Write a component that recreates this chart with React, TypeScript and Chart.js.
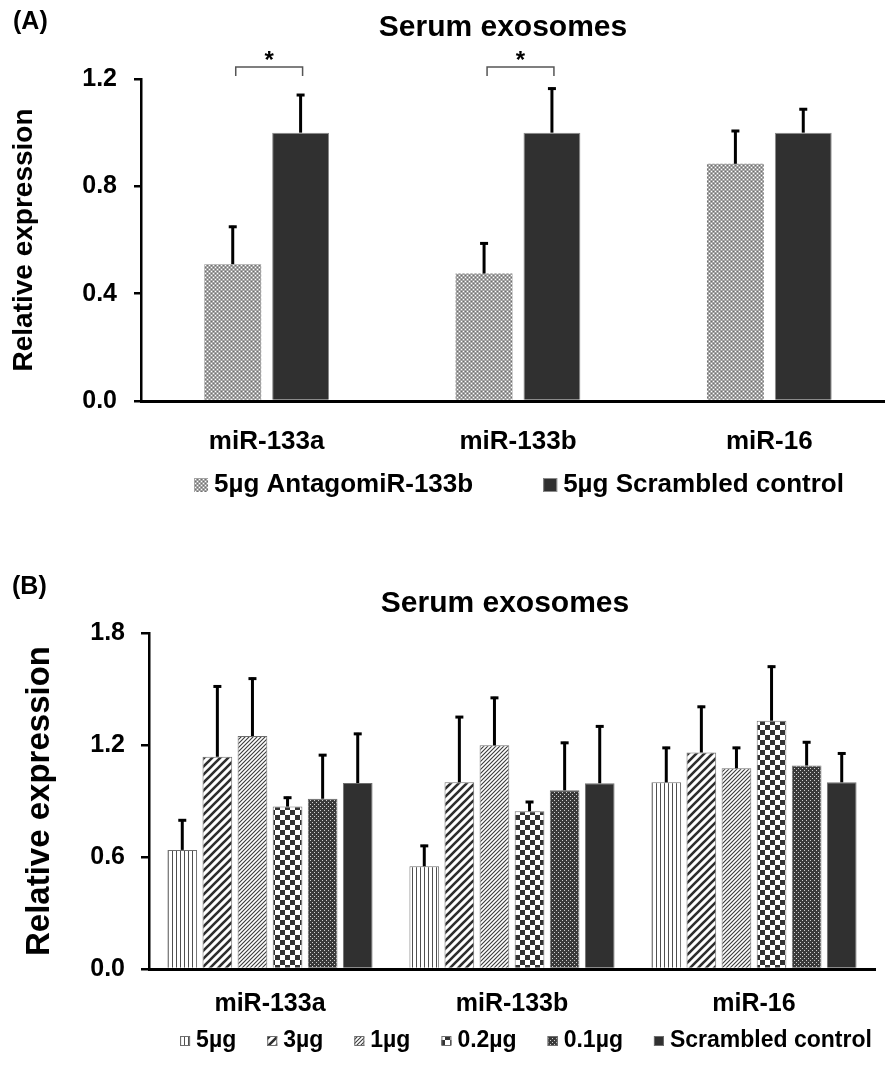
import React, { useEffect, useRef } from "react";
import { Chart, registerables } from "chart.js";

Chart.register(...registerables);

const FONT = "'Liberation Sans', Arial, Helvetica, sans-serif";
Chart.defaults.font.family = FONT;
Chart.defaults.color = "#000";

// ---------- Panel A data ----------
const categoriesA = ["miR-133a", "miR-133b", "miR-16"];
const seriesNamesA = ["5µg AntagomiR-133b", "5µg Scrambled control"];
const antagoMean = [0.51, 0.475, 0.884];
const antagoErr = [0.143, 0.116, 0.126];
const scrambledMeanA = [1.0, 1.0, 1.0];
const scrambledErrA = [0.144, 0.168, 0.091];
const yTicksA = [0, 0.4, 0.8, 1.2];
const significantA = [0, 1];

// ---------- Panel B data ----------
const categoriesB = ["miR-133a", "miR-133b", "miR-16"];
const doseNames = ["5µg", "3µg", "1µg", "0.2µg", "0.1µg", "Scrambled control"];
const dose5Mean = [0.638, 0.55, 1.0];
const dose5Err = [0.164, 0.115, 0.19];
const dose3Mean = [1.137, 1.0, 1.16];
const dose3Err = [0.382, 0.355, 0.25];
const dose1Mean = [1.248, 1.198, 1.075];
const dose1Err = [0.313, 0.26, 0.115];
const dose02Mean = [0.87, 0.845, 1.33];
const dose02Err = [0.053, 0.055, 0.295];
const dose01Mean = [0.912, 0.957, 1.09];
const dose01Err = [0.239, 0.26, 0.13];
const scrambledMeanB = [0.996, 0.995, 1.0];
const scrambledErrB = [0.269, 0.31, 0.16];
const yTicksB = [0, 0.6, 1.2, 1.8];

// ---------- patterns ----------
function makePattern(size: number, draw: (c: CanvasRenderingContext2D) => void): CanvasPattern {
  const cv = document.createElement("canvas");
  cv.width = size;
  cv.height = size;
  const c = cv.getContext("2d")!;
  draw(c);
  return c.createPattern(cv, "repeat")!;
}

const patAntago = () =>
  makePattern(4, (c) => {
    c.fillStyle = "#a4a4a4";
    c.fillRect(0, 0, 4, 4);
    c.fillStyle = "#ffffff";
    c.fillRect(1, 1, 1, 1);
    c.fillRect(3, 3, 1, 1);
    c.fillStyle = "#707070";
    c.fillRect(1, 3, 1, 1);
    c.fillRect(3, 1, 1, 1);
  });

const patVertical = () =>
  makePattern(4, (c) => {
    c.fillStyle = "#ffffff";
    c.fillRect(0, 0, 4, 4);
    c.fillStyle = "#505050";
    c.fillRect(0, 0, 1, 4);
  });

const diag = (size: number, lw: number, color: string) =>
  makePattern(size, (c) => {
    c.fillStyle = "#ffffff";
    c.fillRect(0, 0, size, size);
    c.strokeStyle = color;
    c.lineWidth = lw;
    c.beginPath();
    c.moveTo(-1, size + 1);
    c.lineTo(size + 1, -1);
    c.moveTo(-2, 2);
    c.lineTo(2, -2);
    c.moveTo(size - 2, size + 2);
    c.lineTo(size + 2, size - 2);
    c.stroke();
  });

const patChecker = () =>
  makePattern(10, (c) => {
    c.fillStyle = "#ffffff";
    c.fillRect(0, 0, 10, 10);
    c.fillStyle = "#333333";
    c.fillRect(0, 0, 5, 5);
    c.fillRect(5, 5, 5, 5);
  });

const patDots = () =>
  makePattern(4, (c) => {
    c.fillStyle = "#3a3a3a";
    c.fillRect(0, 0, 4, 4);
    c.fillStyle = "#d0d0d0";
    c.fillRect(0, 0, 1, 1);
    c.fillRect(2, 2, 1, 1);
  });

// ---------- decoration plugin (error bars, title, brackets, legend) ----------
type LegendItem = { text: string; fill: any; stroke?: string; strokeWidth?: number };
type DecorCfg = {
  errors: number[][];
  errWidth: number;
  cap: number;
  panel: string;
  panelX: number;
  panelY: number;
  panelFont: number;
  title: string;
  titleX: number;
  titleY: number;
  titleFont: number;
  brackets?: number[];
  bracketTop?: number;
  bracketLeg?: number;
  legend: LegendItem[];
  legendCx: number;
  legendCy: number;
  legendFont: number;
  legendBox: number;
  legendGap: number;
  legendSpacing: number;
};

function decor(cfg: DecorCfg) {
  return {
    id: "decor",
    afterDatasetsDraw(chart: any) {
      const ctx: CanvasRenderingContext2D = chart.ctx;
      const ys = chart.scales.y;
      cfg.errors.forEach((errs, di) => {
        const meta = chart.getDatasetMeta(di);
        const vals = chart.data.datasets[di].data as number[];
        meta.data.forEach((el: any, j: number) => {
          const x = el.x;
          const yb = el.y;
          const yt = ys.getPixelForValue(vals[j] + errs[j]);
          ctx.save();
          ctx.strokeStyle = "#000";
          ctx.lineWidth = cfg.errWidth;
          ctx.lineCap = "butt";
          ctx.beginPath();
          ctx.moveTo(x, yb);
          ctx.lineTo(x, yt);
          ctx.stroke();
          ctx.beginPath();
          ctx.moveTo(x - cfg.cap / 2, yt + cfg.errWidth / 2 - 0.5);
          ctx.lineTo(x + cfg.cap / 2, yt + cfg.errWidth / 2 - 0.5);
          ctx.stroke();
          ctx.restore();
        });
      });
    },
    afterDraw(chart: any) {
      const ctx: CanvasRenderingContext2D = chart.ctx;
      const ys = chart.scales.y;
      ctx.save();
      // panel label
      ctx.fillStyle = "#000";
      ctx.font = `bold ${cfg.panelFont}px ${FONT}`;
      ctx.textAlign = "left";
      ctx.textBaseline = "middle";
      ctx.fillText(cfg.panel, cfg.panelX, cfg.panelY);
      // title
      ctx.font = `bold ${cfg.titleFont}px ${FONT}`;
      ctx.textAlign = "center";
      ctx.fillText(cfg.title, cfg.titleX, cfg.titleY);
      // significance brackets
      if (cfg.brackets && cfg.bracketTop !== undefined && cfg.bracketLeg !== undefined) {
        const m0 = chart.getDatasetMeta(0);
        const m1 = chart.getDatasetMeta(1);
        const yTop = ys.getPixelForValue(cfg.bracketTop);
        const yLeg = ys.getPixelForValue(cfg.bracketLeg);
        cfg.brackets.forEach((c) => {
          const x1 = m0.data[c].x + 3;
          const x2 = m1.data[c].x + 2;
          ctx.strokeStyle = "#555";
          ctx.lineWidth = 1.5;
          ctx.beginPath();
          ctx.moveTo(x1, yLeg);
          ctx.lineTo(x1, yTop);
          ctx.lineTo(x2, yTop);
          ctx.lineTo(x2, yLeg);
          ctx.stroke();
          ctx.fillStyle = "#000";
          ctx.font = `bold 24px ${FONT}`;
          ctx.textAlign = "center";
          ctx.textBaseline = "alphabetic";
          ctx.fillText("*", (x1 + x2) / 2, yTop + 1);
        });
      }
      // legend
      ctx.font = `bold ${cfg.legendFont}px ${FONT}`;
      const widths = cfg.legend.map((it) => ctx.measureText(it.text).width);
      const b = cfg.legendBox;
      let total = 0;
      widths.forEach((w, i) => {
        total += b + cfg.legendGap + w + (i < widths.length - 1 ? cfg.legendSpacing : 0);
      });
      let x = cfg.legendCx - total / 2;
      const cy = cfg.legendCy;
      cfg.legend.forEach((it, i) => {
        ctx.fillStyle = it.fill;
        ctx.fillRect(x, cy - b / 2, b, b);
        if (it.strokeWidth) {
          ctx.strokeStyle = it.stroke || "#777";
          ctx.lineWidth = it.strokeWidth;
          ctx.strokeRect(x + 0.5, cy - b / 2 + 0.5, b - 1, b - 1);
        }
        ctx.fillStyle = "#000";
        ctx.textAlign = "left";
        ctx.textBaseline = "middle";
        ctx.fillText(it.text, x + b + cfg.legendGap, cy);
        x += b + cfg.legendGap + widths[i] + cfg.legendSpacing;
      });
      ctx.restore();
    },
  };
}

// ---------- configs ----------
function configA(): any {
  const fills = [patAntago(), "#303030"];
  const datasets = [
    { label: seriesNamesA[0], data: antagoMean, backgroundColor: fills[0], borderWidth: 0 },
    { label: seriesNamesA[1], data: scrambledMeanA, backgroundColor: fills[1], borderColor: "#8a8a8a", borderWidth: 1 },
  ].map((d) => ({ ...d, categoryPercentage: 0.54, barPercentage: 0.838 }));
  return {
    type: "bar",
    data: { labels: categoriesA, datasets },
    options: {
      responsive: false,
      animation: false,
      events: [],
      layout: { padding: { left: 0, right: 5, top: 79, bottom: 69 } },
      plugins: { legend: { display: false }, tooltip: { enabled: false }, title: { display: false } },
      scales: {
        x: {
          grid: { display: false, drawTicks: false },
          border: { display: true, color: "#000", width: 3 },
          ticks: { color: "#000", font: { size: 26, weight: "bold" }, padding: 25, autoSkip: false, maxRotation: 0 },
          afterFit: (s: any) => {
            s.height = 60;
          },
        },
        y: {
          min: 0,
          max: 1.2,
          afterBuildTicks: (s: any) => {
            s.ticks = yTicksA.map((v) => ({ value: v }));
          },
          ticks: { color: "#000", font: { size: 25, weight: "bold" }, padding: 17, callback: (v: any) => Number(v).toFixed(1) },
          grid: { drawOnChartArea: false, drawTicks: true, tickLength: 7, color: "#000", lineWidth: 2.5 },
          border: { display: true, color: "#000", width: 2.5 },
          title: { display: true, text: "Relative expression", color: "#000", font: { size: 28, weight: "bold" }, padding: { top: 7, bottom: 0 } },
          afterFit: (s: any) => {
            s.width = 141;
          },
        },
      },
    },
    plugins: [
      decor({
        errors: [antagoErr, scrambledErrA],
        errWidth: 3,
        cap: 8,
        panel: "(A)",
        panelX: 13,
        panelY: 22,
        panelFont: 25,
        title: "Serum exosomes",
        titleX: 503,
        titleY: 28,
        titleFont: 30,
        brackets: significantA,
        bracketTop: 1.245,
        bracketLeg: 1.211,
        legend: [
          { text: seriesNamesA[0], fill: fills[0] },
          { text: seriesNamesA[1], fill: fills[1], stroke: "#8a8a8a", strokeWidth: 1 },
        ],
        legendCx: 519,
        legendCy: 485,
        legendFont: 26,
        legendBox: 14,
        legendGap: 6,
        legendSpacing: 70,
      }),
    ],
  };
}

function configB(): any {
  const fills = [patVertical(), diag(8, 2.6, "#2e2e2e"), diag(4, 1.1, "#3a3a3a"), patChecker(), patDots(), "#303030"];
  const means = [dose5Mean, dose3Mean, dose1Mean, dose02Mean, dose01Mean, scrambledMeanB];
  const errs = [dose5Err, dose3Err, dose1Err, dose02Err, dose01Err, scrambledErrB];
  const datasets = doseNames.map((name, i) => ({
    label: name,
    data: means[i],
    backgroundColor: fills[i],
    borderColor: "#6e6e6e",
    borderWidth: 1,
    categoryPercentage: 0.87,
    barPercentage: 0.846,
  }));
  return {
    type: "bar",
    data: { labels: categoriesB, datasets },
    options: {
      responsive: false,
      animation: false,
      events: [],
      layout: { padding: { left: 0, right: 10, top: 103, bottom: 36 } },
      plugins: { legend: { display: false }, tooltip: { enabled: false }, title: { display: false } },
      scales: {
        x: {
          grid: { display: false, drawTicks: false },
          border: { display: true, color: "#000", width: 3 },
          ticks: { color: "#000", font: { size: 25, weight: "bold" }, padding: 20, autoSkip: false, maxRotation: 0 },
          afterFit: (s: any) => {
            s.height = 60;
          },
        },
        y: {
          min: 0,
          max: 1.8,
          afterBuildTicks: (s: any) => {
            s.ticks = yTicksB.map((v) => ({ value: v }));
          },
          ticks: { color: "#000", font: { size: 25, weight: "bold" }, padding: 16, callback: (v: any) => Number(v).toFixed(1) },
          grid: { drawOnChartArea: false, drawTicks: true, tickLength: 8, color: "#000", lineWidth: 2.5 },
          border: { display: true, color: "#000", width: 2.5 },
          title: { display: true, text: "Relative expression", color: "#000", font: { size: 33, weight: "bold" }, padding: { top: 20, bottom: 0 } },
          afterFit: (s: any) => {
            s.width = 149;
          },
        },
      },
    },
    plugins: [
      decor({
        errors: errs,
        errWidth: 3,
        cap: 8,
        panel: "(B)",
        panelX: 12,
        panelY: 57,
        panelFont: 25,
        title: "Serum exosomes",
        titleX: 505,
        titleY: 74,
        titleFont: 30,
        legend: doseNames.map((n, i) => ({ text: n, fill: fills[i], stroke: "#6e6e6e", strokeWidth: 1 })),
        legendCx: 526,
        legendCy: 511,
        legendFont: 23,
        legendBox: 10,
        legendGap: 6,
        legendSpacing: 31,
      }),
    ],
  };
}

function ChartCanvas({ width, height, top, build }: { width: number; height: number; top: number; build: () => any }) {
  const ref = useRef<HTMLCanvasElement>(null);
  useEffect(() => {
    const chart = new Chart(ref.current!, build());
    return () => chart.destroy();
  }, []);
  return (
    <canvas
      ref={ref}
      width={width}
      height={height}
      style={{ position: "absolute", left: 0, top, width, height, display: "block" }}
    />
  );
}

export default function App() {
  return (
    <div
      style={{
        position: "absolute",
        left: 0,
        top: 0,
        width: 885,
        height: 1065,
        overflow: "hidden",
        background: "#fff",
      }}
    >
      <ChartCanvas width={900} height={530} top={0} build={configA} />
      <ChartCanvas width={885} height={535} top={530} build={configB} />
    </div>
  );
}
